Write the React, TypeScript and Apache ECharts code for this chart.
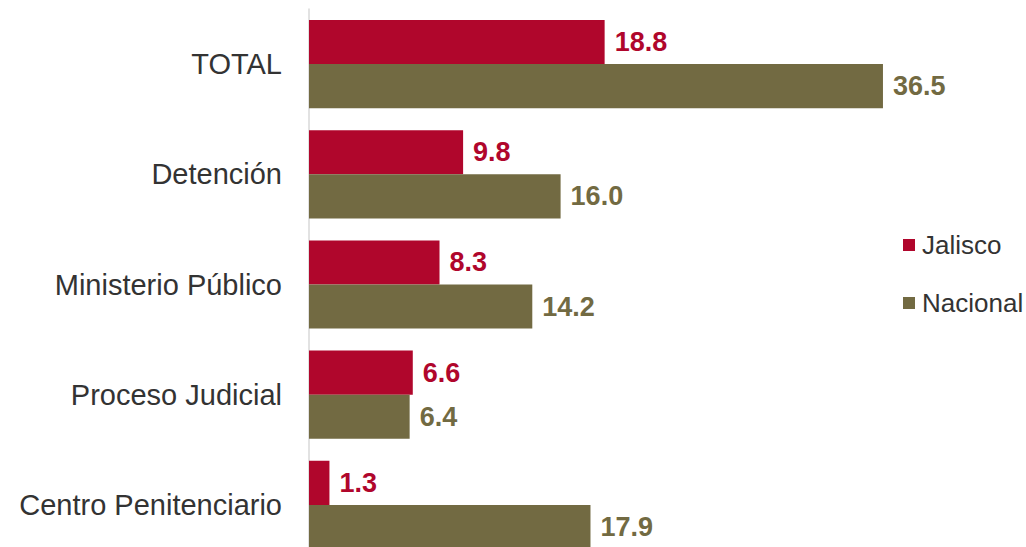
import React, { useEffect, useRef } from "react";
import * as echarts from "echarts";

const categories = ["TOTAL", "Detención", "Ministerio Público", "Proceso Judicial", "Centro Penitenciario"];
const jalisco = [18.8, 9.8, 8.3, 6.6, 1.3];
const nacional = [36.5, 16.0, 14.2, 6.4, 17.9];
const seriesNames = ["Jalisco", "Nacional"];
const colors = ["#B0062C", "#726A42"];

export default function App() {
  const ref = useRef<HTMLDivElement>(null);
  useEffect(() => {
    if (!ref.current) return;
    const chart = echarts.init(ref.current, undefined, { renderer: "svg" });
    const mk = (name: string, data: number[], color: string) => ({
      name,
      type: "bar",
      data,
      barGap: "0%",
      barCategoryGap: "20%",
      itemStyle: { color },
      label: {
        show: true,
        position: "right",
        distance: 10,
        color,
        fontFamily: "Liberation Sans, Arial, sans-serif",
        fontWeight: "bold",
        fontSize: 27,
        formatter: (p: any) => Number(p.value).toFixed(1),
      },
    });
    chart.setOption({
      animation: false,
      grid: { left: 309, right: 88, top: 9, bottom: 10, containLabel: false },
      legend: {
        orient: "vertical",
        left: 903,
        top: 232,
        padding: 0,
        icon: "rect",
        itemWidth: 12,
        itemHeight: 12,
        itemGap: 32,
        data: seriesNames,
        textStyle: {
          fontFamily: "Liberation Sans, Arial, sans-serif",
          fontSize: 26,
          lineHeight: 26,
          color: "#333333",
          padding: [0, 0, 0, 2],
        },
      },
      xAxis: {
        type: "value",
        min: 0,
        max: 40,
        show: false,
        splitLine: { show: false },
      },
      yAxis: {
        type: "category",
        data: categories,
        inverse: true,
        axisTick: { show: false },
        axisLine: { show: true, lineStyle: { color: "#D9D9D9", width: 1.5 } },
        axisLabel: {
          margin: 27,
          fontFamily: "Liberation Sans, Arial, sans-serif",
          fontSize: 29,
          color: "#333333",
        },
      },
      series: [mk(seriesNames[0], jalisco, colors[0]), mk(seriesNames[1], nacional, colors[1])],
    });
    return () => chart.dispose();
  }, []);
  return (
    <div style={{ position: "absolute", left: 0, top: 0, width: 1026, height: 547, overflow: "hidden", background: "#fff" }}>
      <div ref={ref} style={{ width: 1026, height: 570 }} />
    </div>
  );
}
